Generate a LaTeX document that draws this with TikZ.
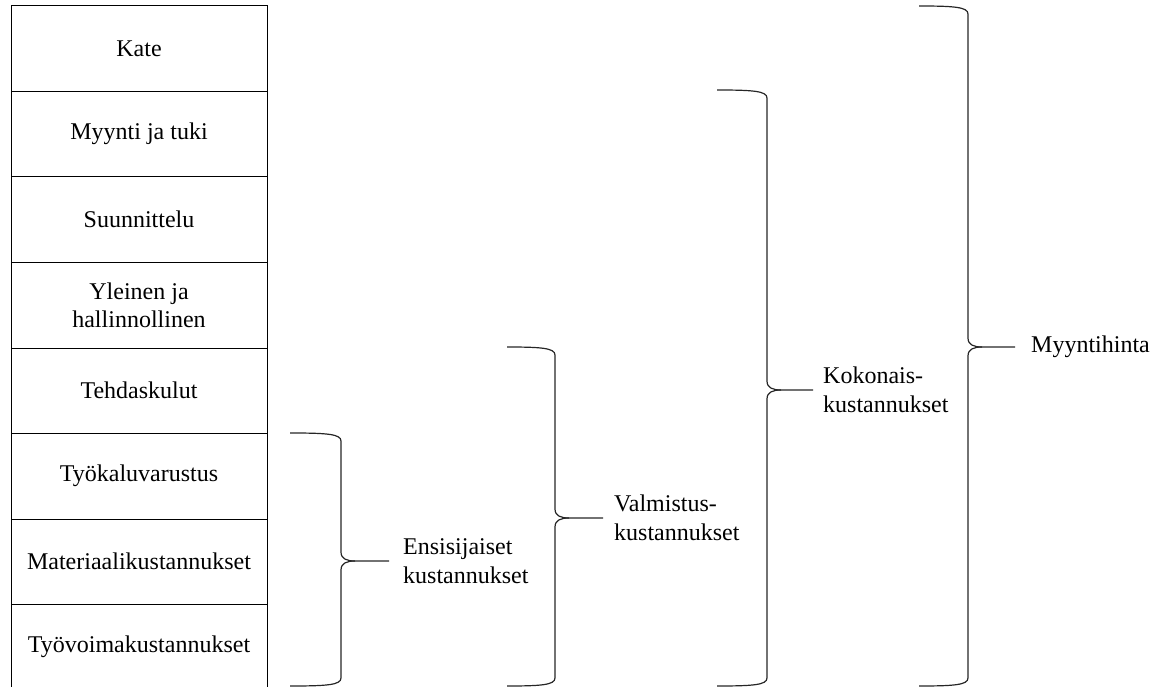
\documentclass[tikz,border=0pt]{standalone}
\usepackage{fontspec}
\setmainfont{Liberation Serif}
\begin{document}
\begin{tikzpicture}[x=1pt,y=-1pt,
  cell/.style={draw=black, line width=1pt, minimum width=256pt, minimum height=85.5pt,
    inner sep=0pt, align=center, font=\fontsize{24}{28}\selectfont},
  brace/.style={draw=black!85, line width=1.2pt, line join=round},
  tag/.style={anchor=west, align=left, inner sep=0pt, font=\fontsize{24}{28.5}\selectfont}]
\useasboundingbox (0,0) rectangle (1160,687);

% cost stack
\node[cell] (kate)  at (139,48.75)  {Kate};
\node[cell] (myynti) at (139,134.25) {Myynti ja tuki};
\node[cell] (suun)  at (139,219.75) {Suunnittelu};
\node[cell] (yleinen) at (139,305.25) {Yleinen ja\\hallinnollinen};
\node[cell] (tehdas) at (139,390.75) {Tehdaskulut};
\node[cell] (tyokalu) at (139,476.25) {Työkaluvarustus};
\node[cell] (materiaali) at (139,561.75) {Materiaalikustannukset};
\node[cell] (tyovoima) at (139,647.25) {Työvoimakustannukset};

% right-pointing curly brace: #1 open x, #2 top y, #3 bottom y, #4 spine x, #5 tip y, #6 tip x
\newcommand\costbrace[6]{%
  \draw[brace] (#1,#2) .. controls ({#4-14},#2) and (#4,{#2+1}) .. (#4,{#2+8})
    -- (#4,{#5-9}) .. controls (#4,{#5-2}) and ({#4+6},#5) .. ({#4+14},#5) -- (#6,#5);
  \draw[brace] ({#4+14},#5) .. controls ({#4+6},#5) and (#4,{#5+2}) .. (#4,{#5+9})
    -- (#4,{#3-8}) .. controls (#4,{#3-1}) and ({#4-14},#3) .. (#1,#3);}

\costbrace{290}{433}{686}{341}{561}{389}
\costbrace{507}{347}{686}{555}{518}{603}
\costbrace{717}{90}{686}{767}{390}{813}
\costbrace{919}{6}{686}{968}{347}{1015}

\node[tag] (ensi) at (403,561) {Ensisijaiset\\kustannukset};
\node[tag] (valm) at (614,518) {Valmistus-\\kustannukset};
\node[tag] (koko) at (823,390) {Kokonais-\\kustannukset};
\node[tag] (hinta) at (1031,347) {Myyntihinta};
\end{tikzpicture}
\end{document}
